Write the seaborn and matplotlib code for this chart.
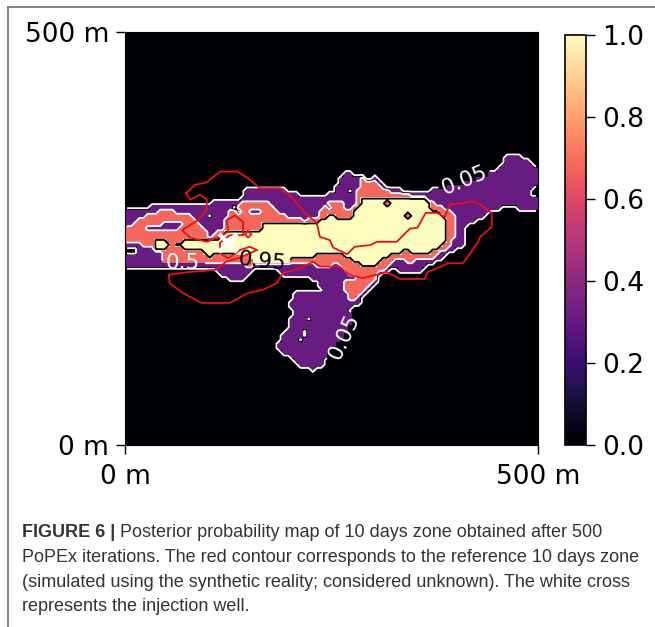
import numpy as np
import seaborn as sns
import matplotlib.pyplot as plt
from matplotlib.lines import Line2D
from matplotlib.path import Path

# outlines, in metres
outer_zone = [(-5,285),(27,285),(34,291),(63,291),(70,288),(94,291),(115,294),(139,297),(148,309),(188,311),
              (203,303),(236,300),(249,303),(260,317),(260,327),(275,329),(285,321),(303,323),(317,312),(341,306),
              (357,306),(381,309),(438,327),(450,331),(462,349),(478,350),(499,335),(505,317),(488,309),(494,300),
              (505,299),(505,287),(475,287),(466,291),(450,285),(438,281),(426,272),(409,263),(409,252),(414,245),
              (402,239),(390,232),(366,217),(354,208),(339,208),(327,216),(315,209),(303,203),(303,196),(288,179),
              (285,172),(276,170),(272,163),(278,151),(260,127),(246,111),(240,97),(228,92),(216,94),(203,105),
              (188,113),(184,119),(191,133),(202,148),(203,161),(200,173),(208,184),(239,184),(236,196),(226,202),
              (188,208),(179,216),(155,214),(143,200),(119,203),(111,214),(94,216),(18,217),(-5,212)]
outer_holes = [[(-5,232),(15,232),(15,242),(-5,242)],
               [(212,125),(214,137),(218,142),(224,136)]]
mid_zone = [(-5,260),(22,276),(54,287),(63,282),(76,282),(91,264),(103,257),(117,258),(125,282),(139,293),
            (176,293),(191,278),(216,272),(236,275),(239,291),(260,297),(270,281),(276,287),(287,323),(300,321),
            (312,309),(341,303),(373,293),(393,285),(402,272),(400,252),(391,240),(369,224),(345,222),(329,224),
            (309,209),(303,203),(293,191),(276,173),(263,188),(263,197),(281,202),(270,209),(260,218),(236,217),
            (196,220),(176,226),(155,217),(94,220),(46,220),(46,232),(36,240),(-5,246)]
mid_holes = [[(27,263),(39,263),(48,270),(70,272),(69,263),(51,258),(28,258)],
             [(148,278),(166,278),(166,283),(148,283)]]
core_zone = [(36,252),(45,252),(54,241),(79,251),(115,252),(123,260),(166,261),(167,272),(220,271),(236,272),
             (252,282),(260,275),(270,272),(288,300),(300,300),(311,298),(347,300),(366,297),(372,287),(390,275),
             (389,248),(381,239),(369,230),(354,230),(341,234),(321,228),(300,216),(285,216),(270,226),(258,232),
             (236,228),(203,225),(196,218),(155,219),(151,230),(119,230),(99,226),(97,232),(61,239),(36,236)]
black_spots = [(103,276),(274,306),(223,151),(133,287),(138,281)]
purple_spots = [(103,251),(248,287),(264,297)]
salmon_spots = [(318,291),(344,276)]

reference_zone = [(74,305),(85,315),(99,318),(115,331),(136,331),(149,323),(163,311),(188,311),(203,299),(218,281),
                  (232,269),(236,252),(248,248),(252,239),(269,231),(278,240),(297,242),(305,246),(329,246),(345,262),
                  (354,263),(364,281),(378,281),(387,276),(393,291),(409,293),(418,295),(427,293),(444,281),(444,264),
                  (430,252),(427,245),(418,232),(409,220),(391,220),(378,214),(366,209),(363,201),(333,201),(317,209),
                  (312,208),(288,202),(272,206),(260,216),(236,216),(228,222),(212,214),(191,208),(184,196),(167,188),
                  (149,184),(127,172),(93,172),(70,184),(54,196),(53,206),(73,209),(109,212),(123,222),(137,226),
                  (160,236),(151,240),(139,236),(125,226),(115,232),(115,245),(127,254),(143,254),(143,270),(133,278),
                  (123,272),(125,258),(111,251),(99,246),(79,251),(69,260),(88,272),(99,285),(99,297),(91,303),
                  (79,297),(74,305)]
reference_spot = [(149,259),(153,255),(149,251),(145,255),(149,259)]
well = (125, 245)

# probability classes
p_outer, p_mid, p_core = 0.31, 0.68, 1.0
contour_levels = [0.05, 0.5, 0.95]
contour_colors = ['white', 'white', 'black']
colorbar_ticks = [0.0, 0.2, 0.4, 0.6, 0.8, 1.0]
axis_labels = ['0 m', '500 m']
domain = 500
cell = 5

caption_bold = "FIGURE 6 |"
caption_first = " Posterior probability map of 10 days zone obtained after 500"
caption_rest = ["PoPEx iterations. The red contour corresponds to the reference 10 days zone",
                "(simulated using the synthetic reality; considered unknown). The white cross",
                "represents the injection well."]

# fill the grid from the outlines
n = domain // cell
centres = (np.arange(n) + 0.5) * cell
xx, yy = np.meshgrid(centres, centres)
pts = np.column_stack([xx.ravel(), yy.ravel()])


def inside(poly):
    return Path(poly).contains_points(pts).reshape(n, n)


def spot(grid, where, value):
    for x, y in where:
        grid[int(y // cell), int(x // cell)] = value


grid = np.zeros((n, n))
grid[inside(outer_zone)] = p_outer
for hole in outer_holes:
    grid[inside(hole)] = 0
grid[inside(mid_zone)] = p_mid
for hole in mid_holes:
    grid[inside(hole)] = p_outer
grid[inside(core_zone)] = p_core
spot(grid, black_spots, 0)
spot(grid, purple_spots, p_outer)
spot(grid, salmon_spots, p_mid)

plt.rcParams['font.family'] = 'DejaVu Sans'
fig = plt.figure(figsize=(6.55, 6.27), dpi=100, facecolor='white')
W, H = 655, 627
ax = fig.add_axes([125 / W, (H - 445) / H, 413 / W, 413 / H])
cax = fig.add_axes([565 / W, (H - 445) / H, 21 / W, 410 / H])

sns.heatmap(grid, ax=ax, cbar_ax=cax, cmap='magma', vmin=0, vmax=1,
            xticklabels=False, yticklabels=False, rasterized=True)
ax.invert_yaxis()
ax.set_aspect('auto')

# tick positions in grid cells
ax.set_xticks([0, n])
ax.set_xticklabels(axis_labels)
ax.set_yticks([0, n])
ax.set_yticklabels(axis_labels, rotation=0)
ax.tick_params(labelsize=19, length=6.5, width=1, color='black', pad=5)
ax.tick_params(axis='x', pad=7)
for s in ax.spines.values():
    s.set_visible(True)
    s.set_linewidth(0.8)

cs = ax.contour(centres / cell, centres / cell, grid, levels=contour_levels,
                colors=contour_colors, linewidths=1.3)
label_at = [((462 - 125) / 413 * n, (445 - 178) / 413 * n),
            ((340 - 125) / 413 * n, (445 - 332) / 413 * n),
            ((183 - 125) / 413 * n, (445 - 258) / 413 * n),
            ((262 - 125) / 413 * n, (445 - 257) / 413 * n)]
labels = ax.clabel(cs, fmt='%g', fontsize=15.5, inline=True, manual=label_at)
for t, rot in zip(labels, [22, 65, 0, -6]):
    t.set_rotation(rot)

rx, ry = zip(*reference_zone)
ax.plot(np.array(rx) / cell, np.array(ry) / cell, color='#e8101a', lw=1.3)
rx, ry = zip(*reference_spot)
ax.plot(np.array(rx) / cell, np.array(ry) / cell, color='#e8101a', lw=1.3)
ax.plot(well[0] / cell, well[1] / cell, marker='x', color='white', ms=13, mew=3.2)

cbar = ax.collections[0].colorbar
cbar.set_ticks(colorbar_ticks)
cbar.ax.tick_params(labelsize=19, length=6.5, width=1, pad=5)
cbar.outline.set_visible(True)
cbar.outline.set_edgecolor('black')
cbar.outline.set_linewidth(1.2)

# page frame of the article figure
fig.add_artist(Line2D([7.5 / W, 7.5 / W], [0, 1 - 6.5 / H], color='#707070', lw=1.2))
fig.add_artist(Line2D([7.5 / W, 1], [1 - 6.5 / H, 1 - 6.5 / H], color='#707070', lw=1.2))

# caption
cap = {'family': 'Liberation Sans', 'fontsize': 13, 'color': '#333333'}
first = fig.text(22 / W, 1 - 541 / H, caption_bold, fontweight='bold', va='bottom', **cap)
ax.annotate(caption_first, xy=(1, 0), xycoords=first, va='bottom', annotation_clip=False, **cap)
for i, line in enumerate(caption_rest):
    fig.text(22 / W, 1 - (562 + i * 24.7) / H, line, va='baseline', **cap)

fig.savefig('out.png', dpi=100)
